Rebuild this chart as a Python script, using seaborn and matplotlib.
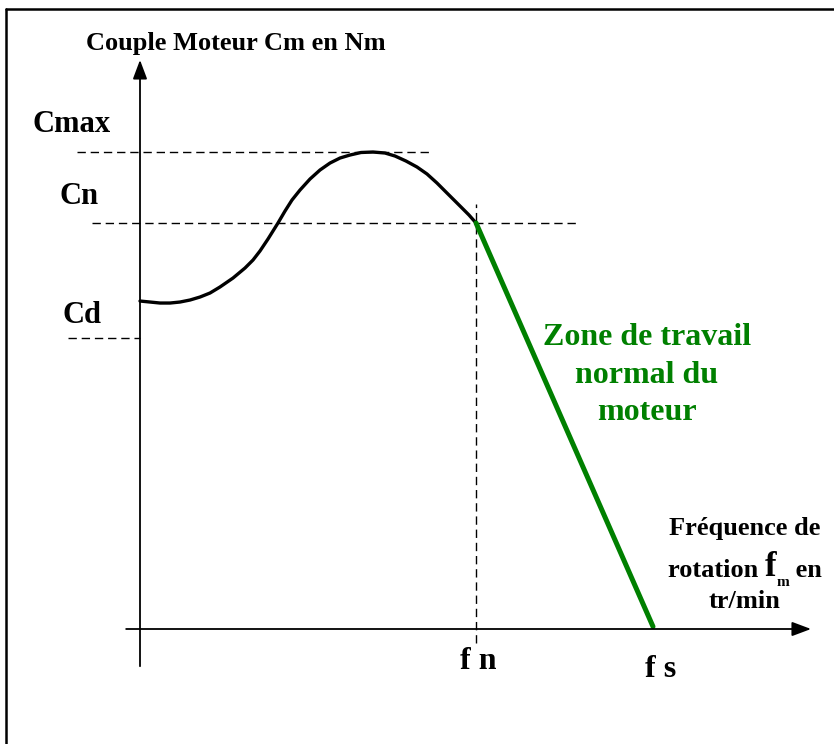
import numpy as np
import matplotlib
matplotlib.use("Agg")
import matplotlib.pyplot as plt
from matplotlib.lines import Line2D
import seaborn as sns

# torque / speed curve of the motor (arbitrary units, Cmax = 100, fs = 100)
freq = [0, 1.95, 3.90, 5.85, 7.80, 9.75, 11.70, 13.65, 15.59, 18.13, 20.47,
        22.03, 23.39, 24.95, 26.90, 28.27, 29.63, 31.19, 33.14, 35.09, 37.04,
        38.99, 40.94, 43.08, 45.42, 47.76, 49.71, 51.85, 53.99, 55.95, 57.89,
        59.84, 61.40, 62.77, 64.13, 65.50]
torque = [68.76, 68.55, 68.34, 68.34, 68.55, 68.97, 69.60, 70.44, 71.70, 73.58, 75.68,
          77.36, 79.25, 81.76, 85.12, 87.63, 89.94, 92.03, 94.34, 96.23, 97.69,
          98.74, 99.37, 99.90, 100.0, 99.79, 99.16, 98.11, 96.86, 95.39, 93.50,
          91.40, 89.73, 88.26, 86.79, 85.12]
# normal working zone (green)
freq_zone = [65.5, 100.0]
torque_zone = [85.12, 0.5]

c_max = 100.0
c_n = 85.12
c_d = 61.0
f_n = 65.5
f_s = 100.0

sns.set_theme(style="white")
plt.rcParams["font.family"] = ["Liberation Serif", "DejaVu Serif"]
plt.rcParams["font.weight"] = "bold"
plt.rcParams["text.color"] = "black"

fig = plt.figure(figsize=(8.34, 7.44), dpi=100)
ax = fig.add_axes([0, 0, 1, 1])
ax.set_xlim(-27.29, 135.28)
ax.set_ylim(-24.11, 131.87)
ax.axis("off")

# frame of the drawing (top and left edges)
fig.add_artist(Line2D([0.0072, 0.0072], [0, 0.988], transform=fig.transFigure, color="black", lw=1.8))
fig.add_artist(Line2D([0.0072, 1.0], [0.988, 0.988], transform=fig.transFigure, color="black", lw=1.8))

# axes with arrows
arrow = dict(arrowstyle="-|>,head_length=0.4,head_width=0.15", mutation_scale=29,
             color="black", lw=1.3, shrinkA=0, shrinkB=0)
ax.annotate("", xy=(0, 119.3), xytext=(0, -7.8), arrowprops=arrow)
ax.annotate("", xy=(130.8, 0), xytext=(-2.7, 0), arrowprops=arrow)

# dashed reference lines
dash = dict(color="black", lw=1.0, linestyles=(0, (6, 3.5)))
ax.hlines(c_max, -12.3, 57.1, **dash)
ax.hlines(c_n, -9.4, 85.2, **dash)
ax.hlines(c_d, -14.0, 0, **dash)
ax.vlines(f_n, -2.9, 89.1, **dash)

# curves
sns.lineplot(x=freq, y=torque, sort=False, color="black", lw=2.4, ax=ax)
sns.lineplot(x=freq_zone, y=torque_zone, sort=False, color="#008000", lw=3.6, ax=ax)

# labels
ax.text(18.7, 121.4, "Couple Moteur Cm en Nm", fontsize=19, ha="center", va="baseline")
ax.text(-20.9, 104.2, "Cmax", fontsize=22, ha="left", va="baseline")
ax.text(-15.6, 89.1, "Cn", fontsize=22, ha="left", va="baseline")
ax.text(-15.2, 64.2, "Cd", fontsize=22, ha="left", va="baseline")
ax.text(62.4, -8.4, "f n", fontsize=23, ha="left", va="baseline")
ax.text(98.4, -10.1, "f s", fontsize=23, ha="left", va="baseline")

green = "#008000"
ax.text(98.8, 59.5, "Zone de travail", fontsize=23, color=green, ha="center", va="baseline")
ax.text(98.8, 51.6, "normal du", fontsize=23, color=green, ha="center", va="baseline")
ax.text(98.8, 43.8, "moteur", fontsize=23, color=green, ha="center", va="baseline")

ax.text(117.9, 19.7, "Fréquence de", fontsize=19, ha="center", va="baseline")
t_en = ax.text(132.9, 10.9, " en", fontsize=19, ha="right", va="baseline")
t_m = ax.annotate("m", xy=(0, 0), xycoords=t_en, xytext=(0, -5.3), textcoords="offset points",
                  fontsize=11, ha="right", va="bottom")
t_f = ax.annotate("f", xy=(0, 0), xycoords=t_m, xytext=(0, 4.0), textcoords="offset points",
                  fontsize=25, ha="right", va="bottom")
ax.annotate("rotation ", xy=(0, 0), xycoords=t_f, xytext=(0, 1.3), textcoords="offset points",
            fontsize=19, ha="right", va="bottom")
ax.text(117.9, 4.4, "tr/min", fontsize=19, ha="center", va="baseline")

fig.savefig("out.png", dpi=100)
